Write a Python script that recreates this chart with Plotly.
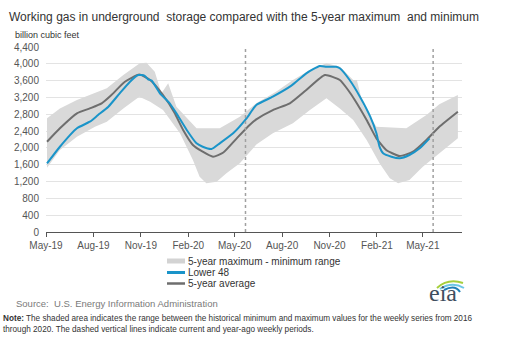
import plotly.graph_objects as go

# ---------------- data ----------------
lower48_dates = ["2019-05-03", "2019-05-28", "2019-06-30", "2019-07-25", "2019-08-10", "2019-08-30",
                 "2019-09-21", "2019-10-11", "2019-10-27", "2019-11-08", "2019-11-15", "2019-11-22",
                 "2019-12-08", "2019-12-27", "2020-01-09", "2020-01-29", "2020-02-17", "2020-02-29",
                 "2020-03-17", "2020-04-02", "2020-04-28", "2020-05-24", "2020-06-12", "2020-07-14",
                 "2020-08-19", "2020-09-17", "2020-10-13", "2020-10-26", "2020-11-14", "2020-11-21",
                 "2020-12-10", "2020-12-30", "2021-01-19", "2021-01-31", "2021-02-06", "2021-02-13",
                 "2021-03-01", "2021-03-17", "2021-04-05", "2021-04-25", "2021-05-14"]
lower48_vals = [1630, 2028, 2466, 2623, 2782, 2980,
                3298, 3574, 3733, 3720, 3630, 3600,
                3298, 3060, 2822, 2426, 2109, 2028,
                1974, 2109, 2347, 2703, 3020, 3218,
                3480, 3774, 3948, 3930, 3931, 3893,
                3615, 3218, 2742, 2347, 2028, 1871,
                1790, 1752, 1831, 1990, 2228]

avg_dates = ["2019-05-03", "2019-05-28", "2019-06-30", "2019-07-25", "2019-08-17", "2019-09-05",
             "2019-10-01", "2019-10-29", "2019-11-19", "2019-12-14", "2020-01-05", "2020-01-22",
             "2020-02-10", "2020-02-29", "2020-03-20", "2020-04-09", "2020-05-05", "2020-05-30",
             "2020-06-12", "2020-07-14", "2020-08-16", "2020-09-17", "2020-10-23", "2020-11-21",
             "2020-12-07", "2020-12-20", "2021-01-12", "2021-01-31", "2021-02-19", "2021-03-17",
             "2021-04-12", "2021-05-08", "2021-06-02", "2021-07-08"]
avg_vals = [2147, 2466, 2822, 2940, 3060, 3258,
            3574, 3745, 3615, 3258, 2840, 2426,
            2069, 1910, 1790, 1890, 2228, 2545,
            2680, 2901, 3060, 3377, 3733, 3615,
            3377, 3139, 2663, 2228, 1950, 1807,
            1910, 2188, 2504, 2862]

max_dates = ["2019-05-03", "2019-05-28", "2019-06-30", "2019-08-04", "2019-08-27", "2019-09-28",
             "2019-10-30", "2019-11-12", "2019-11-28", "2019-12-11", "2019-12-24", "2020-01-09",
             "2020-02-17", "2020-04-02", "2020-05-11", "2020-06-12", "2020-07-21", "2020-08-22",
             "2020-09-24", "2020-10-26", "2020-11-21", "2020-12-17", "2020-12-24", "2021-01-05",
             "2021-01-31", "2021-03-30", "2021-05-08", "2021-06-02", "2021-07-08"]
max_vals = [2703, 2940, 3139, 3298, 3417, 3733,
            4011, 4027, 3813, 3298, 3536, 2980,
            2466, 2466, 2743, 3060, 3340, 3615,
            3852, 4011, 3931, 3615, 3615, 3020,
            2504, 2466, 2780, 3040, 3258]

min_dates = ["2019-05-03", "2019-05-28", "2019-06-30", "2019-08-04", "2019-08-27", "2019-09-28",
             "2019-10-29", "2019-11-19", "2019-12-14", "2020-01-16", "2020-02-10", "2020-02-23",
             "2020-03-07", "2020-03-27", "2020-04-15", "2020-05-11", "2020-06-12", "2020-07-14",
             "2020-08-22", "2020-09-24", "2020-10-26", "2020-11-21", "2020-12-17", "2021-01-12",
             "2021-02-06", "2021-02-26", "2021-03-14", "2021-04-05", "2021-05-01", "2021-06-02",
             "2021-07-08"]
min_vals = [1530, 1950, 2266, 2504, 2623, 2940,
            3218, 3100, 2901, 2347, 1712, 1315,
            1157, 1196, 1395, 1633, 2080, 2350,
            2585, 2901, 3180, 2940, 2663, 2188,
            1633, 1276, 1157, 1236, 1553, 1871,
            2228]

current_weeks = ["2020-05-22", "2021-05-21"]

y_ticks = list(range(0, 4401, 400))

legend_labels = ["5-year maximum - minimum range", "Lower 48", "5-year average"]

# ---------------- layout helpers ----------------
W, H = 516, 349
L, R, T, B = 46, 462, 47, 232


def px(x):
    return (x - L) / (R - L)


def py(y):
    return (B - y) / (B - T)


FONT = "Liberation Sans, Arial, sans-serif"
BAND = "#d9d9d9"
BLUE = "#1a94c9"
GRAY = "#6e6e6e"

fig = go.Figure()

# shaded range polygon: max forward, min backward
fig.add_trace(go.Scatter(
    x=max_dates + min_dates[::-1],
    y=max_vals + min_vals[::-1],
    fill="toself", fillcolor=BAND, line=dict(width=0, color=BAND),
    mode="lines", hoverinfo="skip", showlegend=False, name=legend_labels[0]))

fig.add_trace(go.Scatter(
    x=avg_dates, y=avg_vals, mode="lines", name=legend_labels[2],
    line=dict(color=GRAY, width=2, shape="spline", smoothing=0.5), showlegend=False))

fig.add_trace(go.Scatter(
    x=lower48_dates, y=lower48_vals, mode="lines", name=legend_labels[1],
    line=dict(color=BLUE, width=2, shape="spline", smoothing=0.5), showlegend=False))

shapes = []
for d in current_weeks:
    shapes.append(dict(type="line", xref="x", yref="paper", x0=d, x1=d, y0=0, y1=1,
                       line=dict(color="#a0a0a0", width=1.5, dash="dot"), layer="above"))

# manual legend
leg_rows = [261, 272.5, 283.5]
leg_styles = [dict(color="#d3d3d3", width=5), dict(color=BLUE, width=3), dict(color=GRAY, width=2.5)]
annotations = []
for lab, yy, st in zip(legend_labels, leg_rows, leg_styles):
    shapes.append(dict(type="line", xref="paper", yref="paper", x0=px(167), x1=px(185),
                       y0=py(yy), y1=py(yy), line=st))
    annotations.append(dict(text=lab, xref="paper", yref="paper", x=px(185.5), y=py(yy),
                            xanchor="left", yanchor="middle", showarrow=False,
                            font=dict(family=FONT, size=10, color="#333333")))

# eia logo swoosh (fan of arcs above the lettering)
swoosh = [((437, 288, 448, 278, 463, 283), "#a6cf3c"),
          ((440, 289, 452, 281, 464, 288), "#6cc7e6"),
          ((444, 290, 455, 284, 460, 292), "#1f7fb6")]
for pts, col in swoosh:
    x0, y0, x1, y1, x2, y2 = pts
    path = "M {} {} Q {} {} {} {}".format(px(x0), py(y0), px(x1), py(y1), px(x2), py(y2))
    shapes.append(dict(type="path", xref="paper", yref="paper", path=path,
                       line=dict(color=col, width=2)))

annotations += [
    dict(text="billion cubic feet", xref="paper", yref="paper", x=px(13), y=py(35),
         xanchor="left", yanchor="middle", showarrow=False,
         font=dict(family=FONT, size=9, color="#333333")),
    dict(text="Source:  U.S. Energy Information Administration", xref="paper", yref="paper",
         x=px(14), y=py(303), xanchor="left", yanchor="middle", showarrow=False,
         font=dict(family=FONT, size=9.5, color="#7a7a7a")),
    dict(text="<b>Note:</b> The shaded area indicates the range between the historical minimum and maximum values for the weekly series from 2016<br>through 2020. The dashed vertical lines indicate current and year-ago weekly periods.",
         xref="paper", yref="paper", x=px(1), y=py(323.5), xanchor="left", yanchor="middle",
         align="left", showarrow=False,
         font=dict(family=FONT, size=8.2, color="#333333")),
    dict(text="eia", xref="paper", yref="paper", x=px(443), y=py(293), xanchor="center",
         yanchor="middle", showarrow=False,
         font=dict(family="Liberation Serif, Times New Roman, serif", size=24, color="#3f4e5e")),
]

fig.update_layout(
    width=W, height=H,
    margin=dict(l=L, r=W - R, t=T, b=H - B),
    paper_bgcolor="white", plot_bgcolor="white",
    title=dict(text="Working gas in underground  storage compared with the 5-year maximum  and minimum",
               x=9 / W, xanchor="left", y=1 - 17 / H, yanchor="middle",
               font=dict(family=FONT, size=12, color="#333333")),
    font=dict(family=FONT, size=10, color="#555555"),
    showlegend=False,
    shapes=shapes,
    annotations=annotations,
    xaxis=dict(range=["2019-05-01", "2021-07-16"], type="date",
               tick0="2019-05-01", dtick="M3", tickformat="%b-%y",
               ticks="outside", ticklen=4, tickcolor="#555555",
               showline=True, linecolor="#555555", linewidth=1,
               showgrid=False, zeroline=False,
               tickfont=dict(family=FONT, size=10, color="#555555")),
    yaxis=dict(range=[0, 4400], tickvals=y_ticks, tickformat=",",
               showgrid=True, gridcolor="#e3e3e3", gridwidth=1,
               showline=False, zeroline=False, ticks="", ticklabelstandoff=6,
               tickfont=dict(family=FONT, size=10, color="#555555")),
)

fig.write_html("out.html")
